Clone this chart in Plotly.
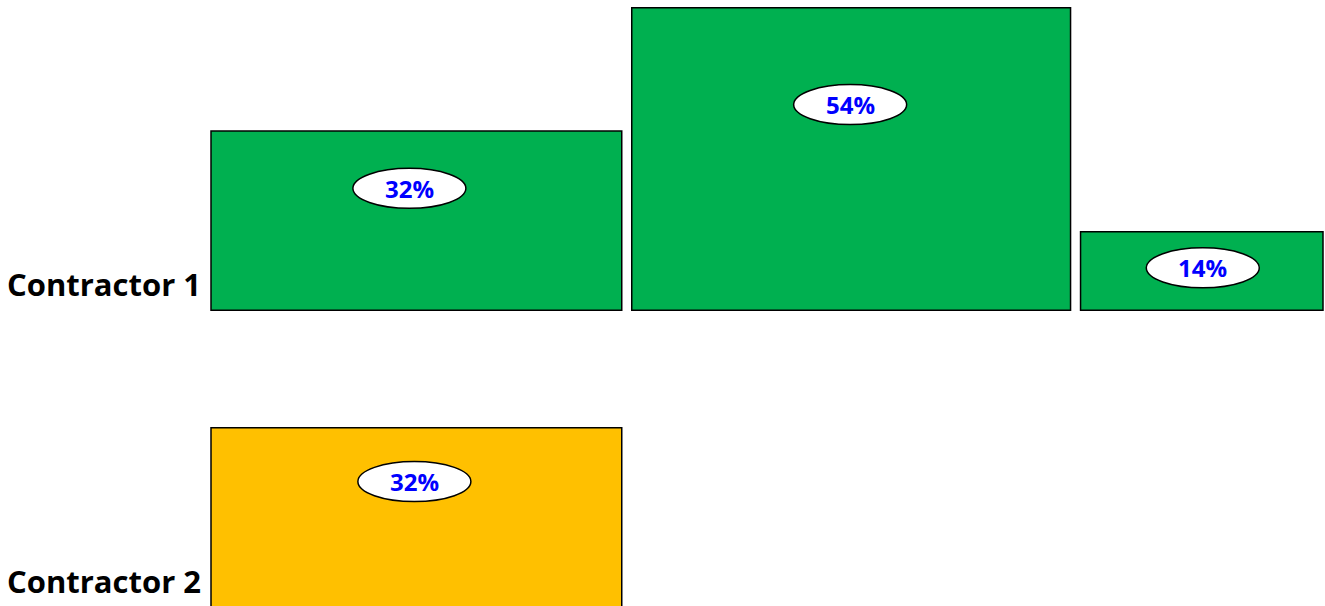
import numpy as np
import plotly.graph_objects as go

# ---- data ----
categories = ["Contractor 1", "Contractor 2"]
c1_values = [32, 54, 14]          # percent (bar heights)
c1_shares = [37.5, 40.0, 22.5]    # column widths (share of total)
c2_values = [32]
c2_shares = [37.5]
label_texts_c1 = ["32%", "54%", "14%"]
label_texts_c2 = ["32%"]

# ---- styling / layout constants ----
W, H = 1325, 606
ML = 206
PX_X = 11.22          # pixels per x unit
PX_Y = 5.6            # pixels per y unit
GAP = 10 / PX_X       # gap between columns in x units
row_base = {"Contractor 1": 53.0, "Contractor 2": 0.0}
row_color = {"Contractor 1": "#00B050", "Contractor 2": "#FFC000"}
label_frac = {"Contractor 1": [0.68, 0.68, 0.54], "Contractor 2": [0.70]}
label_dx = {"Contractor 1": [-7, -1, 1], "Contractor 2": [-2]}
FONT = "Open Sans"

fig = go.Figure()
shapes = []
annotations = []

rows = [
    ("Contractor 1", c1_values, c1_shares, label_texts_c1),
    ("Contractor 2", c2_values, c2_shares, label_texts_c2),
]

for name, vals, shares, texts in rows:
    shares = np.array(shares, dtype=float)
    edges = np.concatenate([[0], np.cumsum(shares)])
    centers = (edges[:-1] + edges[1:]) / 2
    base = row_base[name]
    fig.add_trace(go.Bar(
        x=centers, y=vals, width=shares - GAP, base=[base] * len(vals),
        marker=dict(color=row_color[name], line=dict(color="black", width=1.5)),
        showlegend=False, hoverinfo="skip",
    ))
    for xc, v, t, f, dx in zip(centers, vals, texts, label_frac[name], label_dx[name]):
        yc = base + v * f
        xe = xc + dx / PX_X
        shapes.append(dict(
            type="circle", xref="x", yref="y", xsizemode="pixel", ysizemode="pixel",
            xanchor=xe, yanchor=yc, x0=-56.5, x1=56.5, y0=-20, y1=20,
            fillcolor="white", line=dict(color="black", width=1.5), layer="above",
        ))
        annotations.append(dict(
            x=xe, y=yc, xref="x", yref="y", text=f"<b>{t}</b>", showarrow=False,
            font=dict(family=FONT, size=24, color="#0000FF"),
        ))
    annotations.append(dict(
        x=0, y=base + 4.7, xref="paper", yref="y", xanchor="right", yanchor="middle",
        xshift=-3, text=f"<b>{name}</b>", showarrow=False,
        font=dict(family=FONT, size=31, color="black"),
    ))

fig.update_layout(
    width=W, height=H,
    margin=dict(l=ML, r=0, t=0, b=0),
    plot_bgcolor="white", paper_bgcolor="white",
    xaxis=dict(range=[0, (W - ML) / PX_X], visible=False, showgrid=False, zeroline=False),
    yaxis=dict(range=[(607 - H) / PX_Y, 607 / PX_Y], visible=False, showgrid=False, zeroline=False),
    shapes=shapes, annotations=annotations, barmode="overlay",
)

fig.write_html("out.html", config={"displayModeBar": False},
               post_script="document.body.style.margin='0';")
